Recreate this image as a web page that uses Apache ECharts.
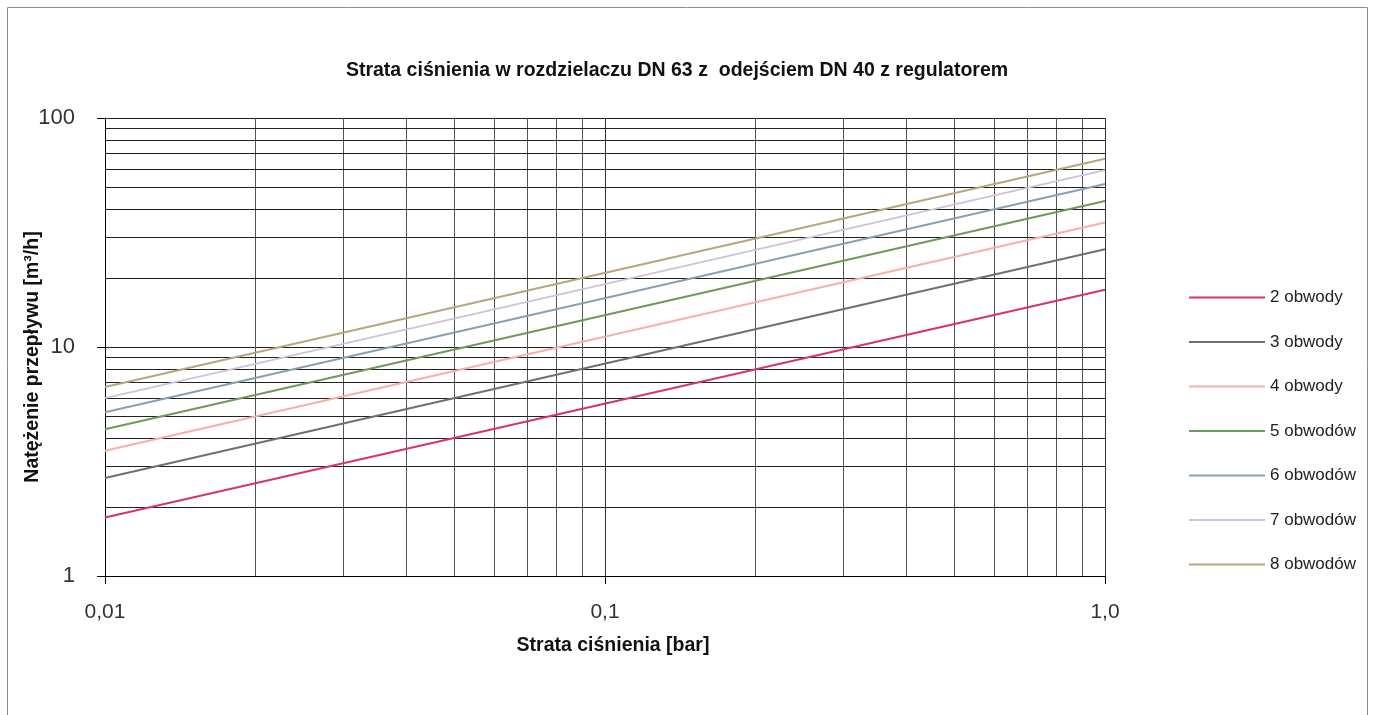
<!DOCTYPE html>
<html>
<head>
<meta charset="utf-8">
<script src="https://cdn.jsdelivr.net/npm/echarts@6/dist/echarts.min.js"></script>
<style>
html,body{margin:0;padding:0;background:#fff;}
#chart{width:1375px;height:715px;}
</style>
</head>
<body>
<div id="chart"></div>
<script>
// Data (log-log straight lines, endpoints)
const pressureLoss = [0.01, 1.0];            // x: Strata ciśnienia [bar]
const seriesNames = ['2 obwody','3 obwody','4 obwody','5 obwodów','6 obwodów','7 obwodów','8 obwodów'];
const flow2 = [1.80, 17.8];
const flow3 = [2.68, 26.7];
const flow4 = [3.52, 35.0];
const flow5 = [4.37, 43.4];
const flow6 = [5.19, 51.5];
const flow7 = [5.98, 59.2];
const flow8 = [6.69, 66.4];
const flows = [flow2, flow3, flow4, flow5, flow6, flow7, flow8];
const seriesColors = ['#d8336b','#707070','#f6b1a4','#6b9b5d','#88a0b4','#cac5da','#b9a57f'];
// minor grid positions
const xMinorGrid = [0.02,0.03,0.04,0.05,0.06,0.07,0.08,0.09,0.2,0.3,0.4,0.5,0.6,0.7,0.8,0.9];
const yMinorGrid = [2,3,4,5,6,7,8,9,20,30,40,50,60,70,80,90];
const xTickLabels = {0.01:'0,01', 0.1:'0,1', 1:'1,0'};

const FONT = '"Liberation Sans", Arial, sans-serif';

const chart = echarts.init(document.getElementById('chart'));

const series = seriesNames.map((n, i) => ({
  name: n,
  type: 'line',
  data: pressureLoss.map((x, j) => [x, flows[i][j]]),
  showSymbol: false,
  symbol: 'none',
  lineStyle: {color: seriesColors[i], width: 2},
  itemStyle: {color: seriesColors[i]},
  z: 5
}));

series.push({
  name: 'grid',
  type: 'line',
  data: [],
  silent: true,
  z: 1,
  markLine: {
    silent: true,
    symbol: 'none',
    label: {show: false},
    animation: false,
    lineStyle: {color: '#222', width: 1, type: 'solid'},
    data: xMinorGrid.map(v => ({xAxis: v, lineStyle:{color:'#555'}}))
      .concat(yMinorGrid.map(v => ({yAxis: v})))
  }
});

chart.setOption({
  animation: false,
  title: {
    text: 'Strata ciśnienia w rozdzielaczu DN 63 z  odejściem DN 40 z regulatorem',
    left: 672, top: 56, textAlign: 'center',
    textStyle: {fontFamily: FONT, fontSize: 19.5, fontWeight: 'bold', color: '#111'}
  },
  graphic: [{
    type: 'rect', shape: {x: 7.5, y: 7.5, width: 1360, height: 720},
    style: {fill: 'none', stroke: '#8c8c8c', lineWidth: 1}, silent: true
  }],
  legend: {
    orient: 'vertical',
    left: 1184, top: 284,
    itemWidth: 76, itemHeight: 12, itemGap: 27.5,
    icon: 'path://M0,5 L76,5 L76,7 L0,7 Z',
    textStyle: {fontFamily: FONT, fontSize: 17, color: '#222', padding: [0,0,4,0]},
    data: seriesNames
  },
  grid: {left: 105, right: 270, top: 118, bottom: 139, containLabel: false},
  xAxis: {
    type: 'log', logBase: 10, min: 0.01, max: 1,
    name: 'Strata ciśnienia [bar]',
    nameLocation: 'middle', nameGap: 60, nameMoveOverlap: false,
    nameTextStyle: {fontFamily: FONT, fontSize: 19.5, fontWeight: 'bold', color: '#111', padding: [0,0,0,16]},
    axisLine: {show: true, onZero: false, lineStyle: {color: '#000', width: 1}},
    axisTick: {show: true, length: 8, lineStyle: {color: '#000'}},
    axisLabel: {
      fontFamily: FONT, fontSize: 21, color: '#333', margin: 26,
      formatter: v => xTickLabels[v] !== undefined ? xTickLabels[v] : ''
    },
    splitLine: {show: true, lineStyle: {color: '#333', width: 1}},
    minorTick: {show: false}, minorSplitLine: {show: false}
  },
  yAxis: {
    type: 'log', logBase: 10, min: 1, max: 100,
    name: 'Natężenie przepływu [m³/h]',
    nameLocation: 'middle', nameGap: 62, nameRotate: 90, nameMoveOverlap: false,
    nameTextStyle: {fontFamily: FONT, fontSize: 19.5, fontWeight: 'bold', color: '#111', padding: [0,20,0,0]},
    axisLine: {show: true, onZero: false, lineStyle: {color: '#000', width: 1}},
    axisTick: {show: true, length: 8, lineStyle: {color: '#000'}},
    axisLabel: {fontFamily: FONT, fontSize: 22, color: '#333', margin: 30},
    splitLine: {show: true, lineStyle: {color: '#222', width: 1}},
    minorTick: {show: false}, minorSplitLine: {show: false}
  },
  series: series
});
</script>
</body>
</html>
